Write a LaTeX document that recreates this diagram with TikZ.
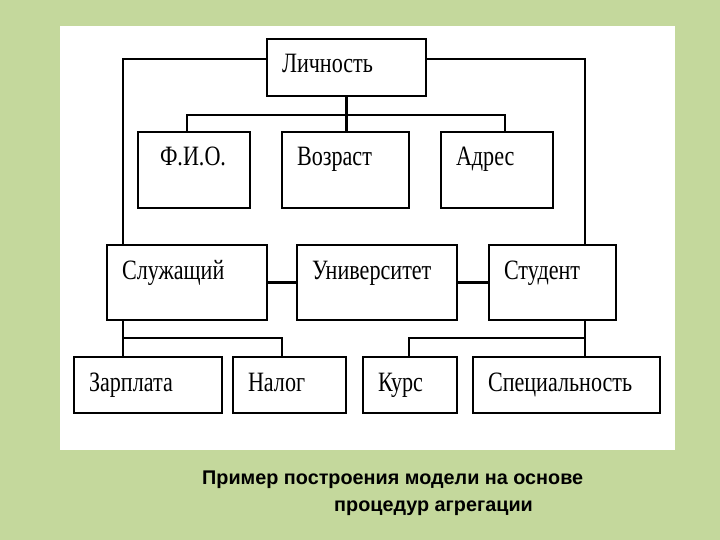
\documentclass[tikz,border=0pt]{standalone}
\usepackage{fontspec}
\usepackage{tikz}
\setmainfont{Liberation Serif}
\newfontfamily\boxfont[FakeStretch=0.79]{Liberation Serif}
\newfontfamily\capfont{Liberation Sans}
\definecolor{sage}{HTML}{C4D89C}
\tikzset{box/.style={draw=black,line width=2.4pt,fill=white,anchor=north west,align=left,inner xsep=15pt,inner ysep=0pt,outer sep=0pt,font=\boxfont\fontsize{28}{30}\selectfont},boxrow/.style={text height=34pt,text depth=#1},wire/.style={line width=2.4pt,draw=black},captext/.style={anchor=base west,inner sep=0pt,font=\capfont\bfseries\fontsize{19.8}{24}\selectfont}}
\begin{document}
\begin{tikzpicture}[x=1pt,y=-1pt]
\fill[sage] (0,0) rectangle (720,540);
\fill[white] (60,26) rectangle (675,450);
\useasboundingbox (0,0) rectangle (720,540);
\node[box,boxrow=23pt,text width=129pt] (lich) at (267,39) {Личность};
\node[box,boxrow=42pt,inner xsep=22pt,text width=68pt] (fio) at (138,132) {Ф.И.О.};
\node[box,boxrow=42pt,text width=97pt] (vozr) at (282,132) {Возраст};
\node[box,boxrow=42pt,text width=82pt] (adres) at (441,132) {Адрес};
\node[box,boxrow=41pt,text width=130pt] (sluzh) at (107,245) {Служащий};
\node[box,boxrow=41pt,text width=130pt] (univ) at (297,245) {Университет};
\node[box,boxrow=41pt,text width=97pt] (stud) at (489,245) {Студент};
\node[box,boxrow=22pt,text width=118pt] (zarp) at (74,357) {Зарплата};
\node[box,boxrow=22pt,text width=83pt] (nalog) at (233,357) {Налог};
\node[box,boxrow=22pt,text width=64pt] (kurs) at (363,357) {Курс};
\node[box,boxrow=22pt,text width=157pt] (spec) at (473,357) {Специальность};
\draw[wire] (lich.south)--(lich.south |- vozr.north);
\draw[wire] ([xshift=-7pt]fio.north)--++(0,-17)-|([xshift=8pt]adres.north);
\draw[wire] ([yshift=8.5pt]lich.west)-|([xshift=16pt]sluzh.north west);
\draw[wire] ([yshift=8.5pt]lich.east)-|([xshift=-31pt]stud.north east);
\draw[wire] (sluzh.east)--(univ.west);
\draw[wire] (univ.east)--(stud.west);
\draw[wire] ([xshift=16pt]sluzh.south west)--([xshift=49pt]zarp.north west);
\draw[wire] ([xshift=49pt]zarp.north west)--++(0,-19)-|([xshift=49pt]nalog.north west);
\draw[wire] ([xshift=-31pt]stud.south east)--([xshift=112pt]spec.north west);
\draw[wire] ([xshift=112pt]spec.north west)--++(0,-19)-|([xshift=46pt]kurs.north west);
\node[captext] (capa) at (202,484) {Пример построения модели на основе};
\node[captext] (capb) at (334,511) {процедур агрегации};
\end{tikzpicture}
\end{document}
